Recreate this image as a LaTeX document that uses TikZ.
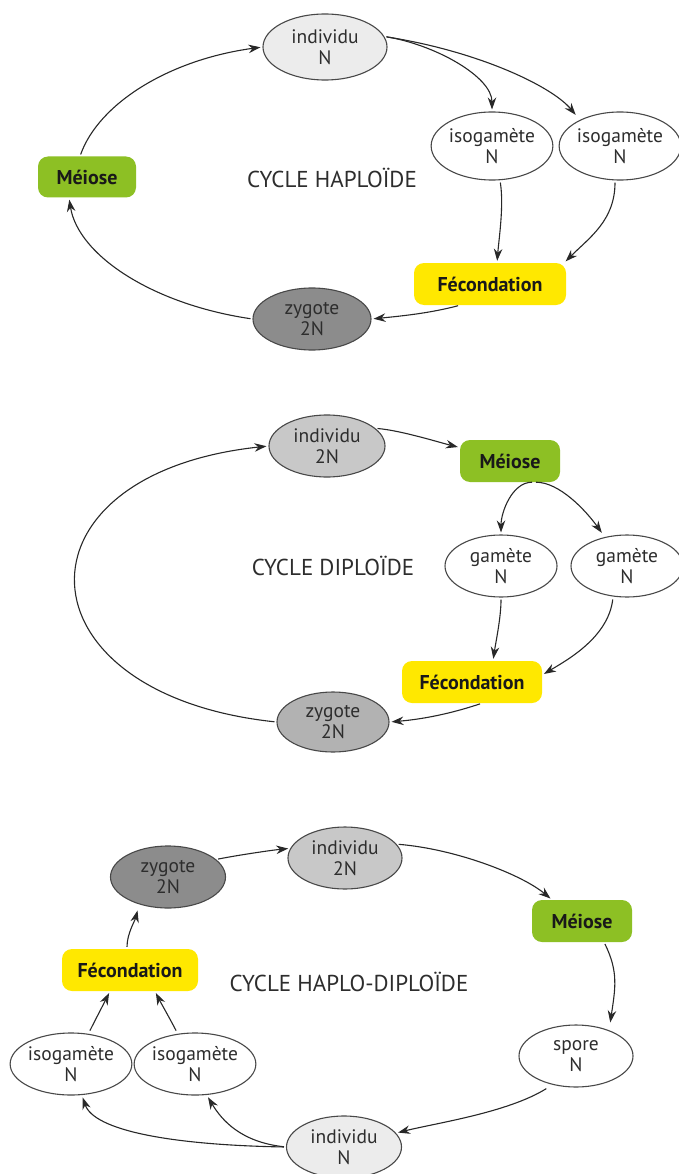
\documentclass[tikz,border=0pt]{standalone}
\usepackage{fontspec}
\setmainfont{PT Sans}
\usetikzlibrary{shapes.geometric,arrows.meta}
\definecolor{meigreen}{RGB}{141,192,36}
\definecolor{fecyellow}{RGB}{255,232,0}
\definecolor{lightn}{RGB}{236,236,236}
\definecolor{midg}{RGB}{200,200,200}
\definecolor{darkg}{RGB}{140,140,140}
\definecolor{zyg2g}{RGB}{178,178,178}
\definecolor{txt}{RGB}{45,45,45}
\definecolor{linec}{RGB}{40,40,40}
\tikzset{
  cell/.style={ellipse, draw=linec!85, line width=1.1pt, inner sep=0pt, align=center,
     text=txt, font=\fontsize{19.5}{21.5}\selectfont},
  stepbox/.style={rounded corners=10pt, inner sep=0pt, align=center,
     text=black!90, font=\bfseries\fontsize{20}{22}\selectfont},
  meibox/.style={stepbox, fill=meigreen, minimum width=100pt, minimum height=42pt},
  fecbox/.style={stepbox, fill=fecyellow, minimum height=42pt},
  title/.style={text=txt, font=\fontsize{23}{25}\selectfont},
  arr/.style={draw=linec, line width=1.1pt, -{Stealth[length=12pt,width=8.5pt]},
     shorten >=2pt, shorten <=2pt}
}
\begin{document}
\begin{tikzpicture}[x=1pt,y=-1pt]
\useasboundingbox[fill=white] (0,0) rectangle (678,1174);

% ---------- CYCLE HAPLOIDE ----------
\node[cell, fill=lightn, minimum width=124pt, minimum height=66pt] (ind1) at (325,47) {individu\\N};
\node[cell, minimum width=120pt, minimum height=68pt] (iso1a) at (492,146) {isogamète\\N};
\node[cell, minimum width=116pt, minimum height=68pt] (iso1b) at (620,146) {isogamète\\N};
\node[meibox, minimum width=98pt, minimum height=41pt] (mei1) at (87,177) {Méiose};
\node[title] (t1) at (332,178) {CYCLE HAPLOÏDE};
\node[fecbox, minimum width=152pt] (fec1) at (490,284) {Fécondation};
\node[cell, fill=darkg, minimum width=118pt, minimum height=62pt] (zyg1) at (312,319) {zygote\\2N};

\draw[arr] ([xshift=-7pt]mei1.north) .. controls +(18.6,-52.3) and +(-94.4,12.9) .. (ind1.west);
\draw[arr] (ind1.10) .. controls +(50,8) and +(0,-35) .. (iso1a.north);
\draw[arr] (ind1.10) .. controls +(95,15) and +(-25,-30) .. ([xshift=-43pt,yshift=-5pt]iso1b.north);
\draw[arr] ([xshift=8pt]iso1a.south) .. controls +(4,25) and +(2,-25) .. ([xshift=7pt]fec1.north);
\draw[arr] ([xshift=-5pt]iso1b.south) .. controls +(0,40) and +(25,-25) .. ([xshift=-2pt]fec1.north east);
\draw[arr] ([xshift=-30pt]fec1.south) .. controls +(-30,8) and +(30,-3) .. (zyg1.east);
\draw[arr] (zyg1.west) .. controls +(-101,-15) and +(9,57) .. ([xshift=-18pt]mei1.south);

% ---------- CYCLE DIPLOIDE ----------
\node[cell, fill=midg, minimum width=116pt, minimum height=62pt] (ind2) at (327,446) {individu\\2N};
\node[meibox] (mei2) at (510,461) {Méiose};
\node[cell, minimum width=112pt, minimum height=62pt] (gam2a) at (501,566) {gamète\\N};
\node[cell, minimum width=112pt, minimum height=62pt] (gam2b) at (627,566) {gamète\\N};
\node[title] (t2) at (333,566) {CYCLE DIPLOÏDE};
\node[fecbox, minimum width=140pt] (fec2) at (472,682) {Fécondation};
\node[cell, fill=zyg2g, minimum width=112pt, minimum height=60pt] (zyg2) at (333,722) {zygote\\2N};

\draw[arr] (zyg2.west) .. controls +(-262,-28) and +(-262,28) .. (ind2.west);
\draw[arr] (ind2.20) .. controls +(25,2) and +(-20,-5) .. (mei2.165);
\draw[arr] ([xshift=24pt]mei2.south) .. controls +(-22,0) and +(0,-22) .. (gam2a.north);
\draw[arr] ([xshift=24pt]mei2.south) .. controls +(25,0) and +(-18,-25) .. ([xshift=-24pt]gam2b.north);
\draw[arr] (gam2a.south) .. controls +(0,20) and +(3,-20) .. ([xshift=21pt]fec2.north);
\draw[arr] ([xshift=-14pt]gam2b.south) .. controls +(-5,40) and +(25,-15) .. ([yshift=7pt]fec2.east);
\draw[arr] ([xshift=10pt]fec2.south) .. controls +(-30,10) and +(35,-3) .. (zyg2.east);

% ---------- CYCLE HAPLO-DIPLOIDE ----------
\node[cell, fill=darkg, minimum width=115pt, minimum height=62pt] (zyg3) at (168,877) {zygote\\2N};
\node[cell, fill=midg, minimum width=114pt, minimum height=62pt] (ind3a) at (345,858) {individu\\2N};
\node[meibox] (mei3) at (582,921) {Méiose};
\node[fecbox, minimum width=136pt] (fec3) at (130,970) {Fécondation};
\node[title] (t3) at (349,982) {CYCLE HAPLO-DIPLOÏDE};
\node[cell, minimum width=117pt, minimum height=62pt] (iso3a) at (71,1064) {isogamète\\N};
\node[cell, minimum width=118pt, minimum height=62pt] (iso3b) at (195,1064) {isogamète\\N};
\node[cell, minimum width=114pt, minimum height=62pt] (spore) at (576,1056) {spore\\N};
\node[cell, fill=lightn, minimum width=115pt, minimum height=62pt] (ind3b) at (344,1147) {individu\\N};

\draw[arr] (zyg3.20) .. controls +(20,-4) and +(-20,2) .. (ind3a.170);
\draw[arr] (ind3a.15) .. controls +(60,5) and +(-30,-25) .. ([xshift=-30pt]mei3.north);
\draw[arr] ([xshift=22pt]mei3.south) .. controls +(15,30) and +(5,-35) .. ([xshift=34pt]spore.north);
\draw[arr] ([xshift=-28pt]spore.south) .. controls +(-40,25) and +(40,-10) .. (ind3b.15);
\draw[arr] (ind3b.west) .. controls +(-115,-2) and +(12,35) .. ([xshift=11pt]iso3a.south);
\draw[arr] (ind3b.west) .. controls +(-45,-5) and +(15,25) .. ([xshift=12pt]iso3b.south);
\draw[arr] ([xshift=18pt]iso3a.north) .. controls +(5,-10) and +(-5,10) .. ([xshift=-20pt]fec3.south);
\draw[arr] ([xshift=-18pt]iso3b.north) .. controls +(-5,-10) and +(5,10) .. ([xshift=25pt]fec3.south);
\draw[arr] ([xshift=-3pt]fec3.north) .. controls +(0,-15) and +(-3,12) .. ([xshift=-30pt]zyg3.south);
\end{tikzpicture}
\end{document}
